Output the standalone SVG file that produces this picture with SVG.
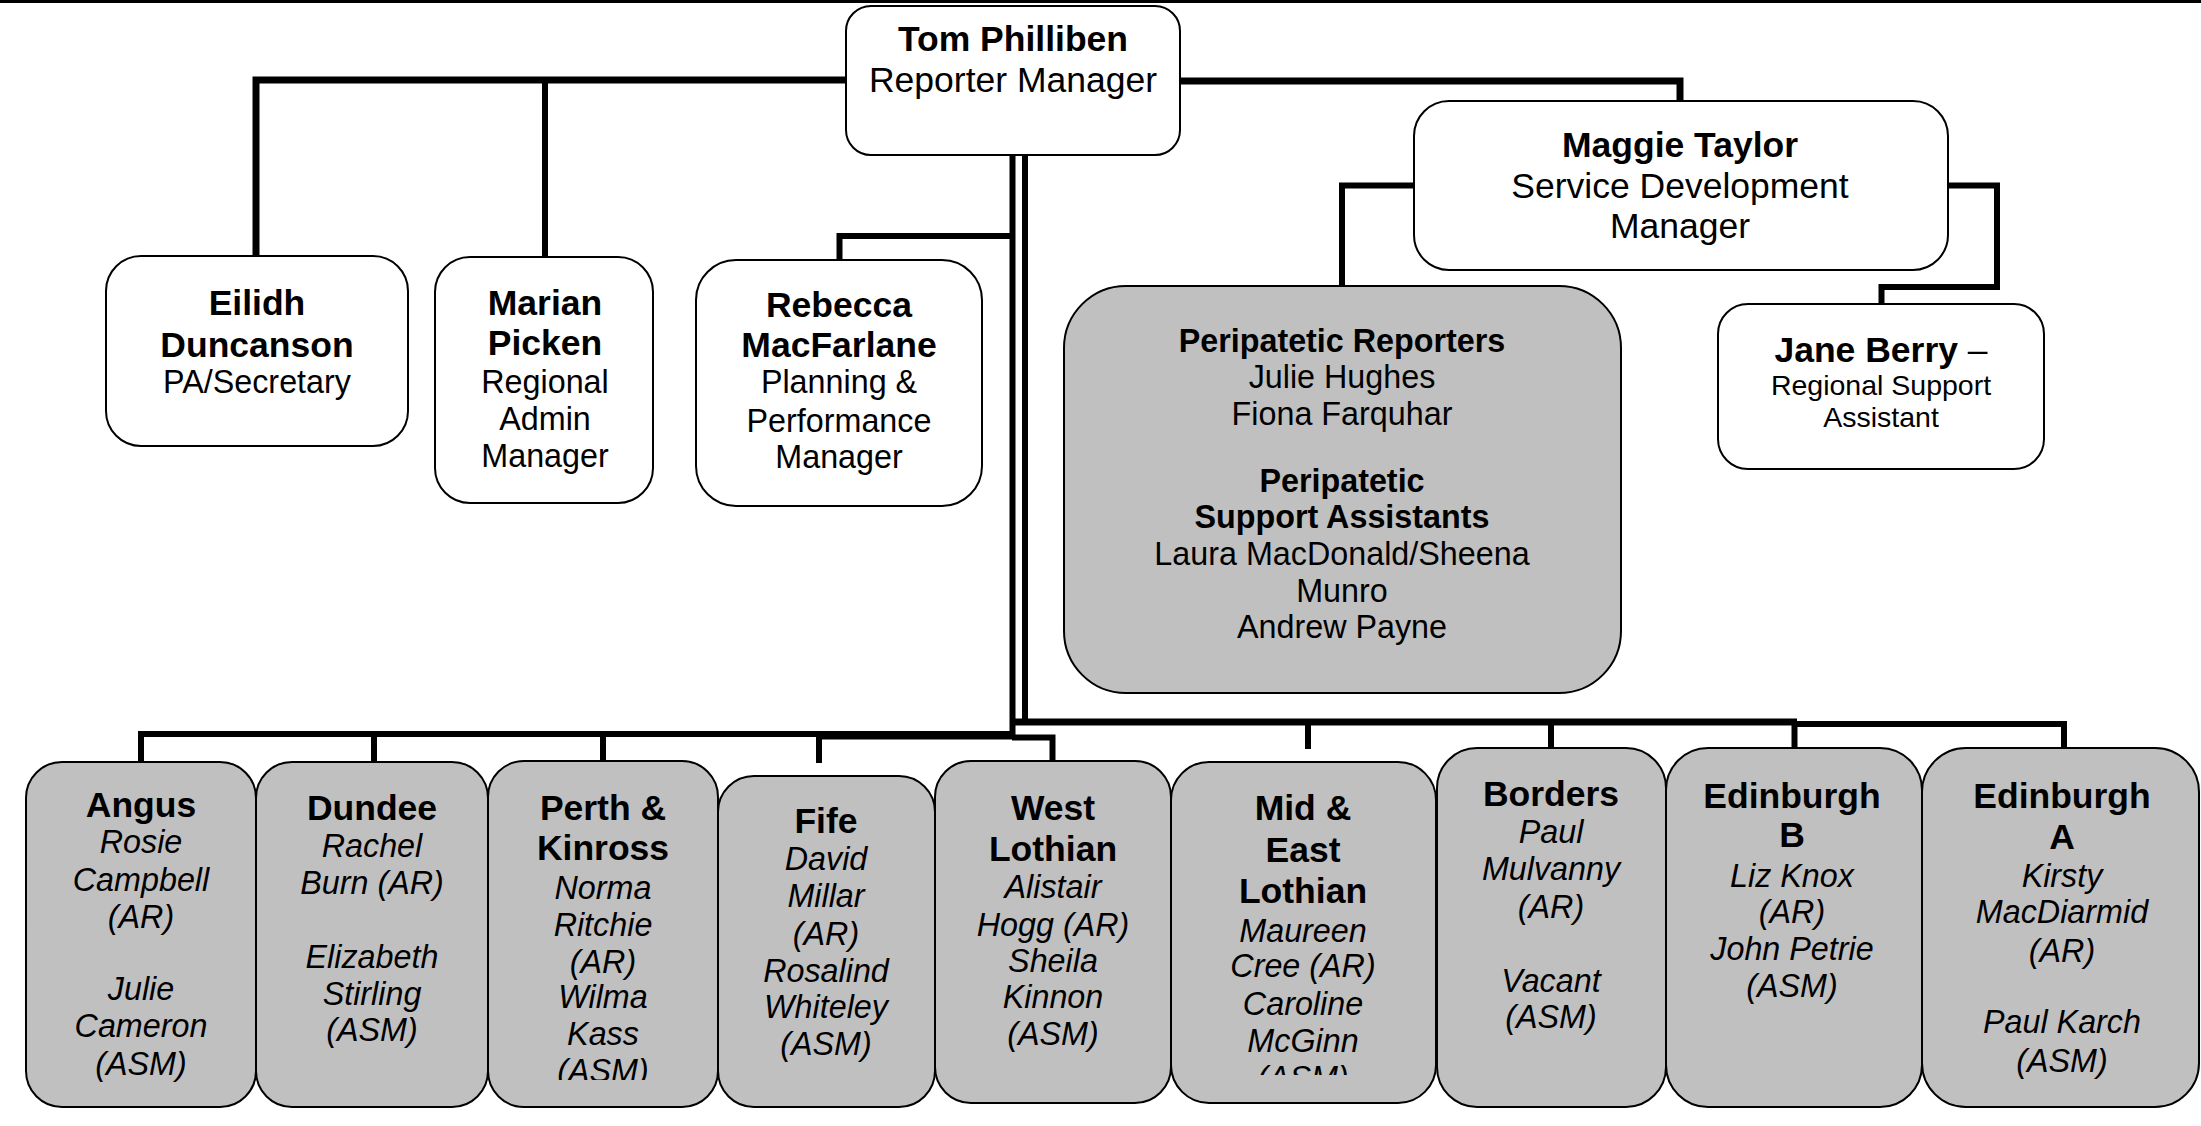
<svg xmlns="http://www.w3.org/2000/svg" width="2201" height="1126" viewBox="0 0 2201 1126">
<defs>
<style>
.box{fill:#fff;stroke:#000;stroke-width:2}
.gbox{fill:#c0c0c0;stroke:#000;stroke-width:2}
.conn{fill:none;stroke:#000;stroke-width:6;stroke-linejoin:miter;stroke-linecap:butt}
.bus{stroke-width:7}
text{font-family:"Liberation Sans",Arial,sans-serif;text-anchor:middle;fill:#000}
.b35{font-weight:bold;font-size:35.5px}
.r35{font-size:35.5px}
.r32{font-size:32.3px}
.b32{font-weight:bold;font-size:32.3px}
.i32{font-style:italic;font-size:32.3px}
.r28{font-size:28.5px}
</style>
<clipPath id="clipPerth"><rect x="488" y="740" width="230" height="340"/></clipPath>
<clipPath id="clipMid"><rect x="1171" y="740" width="265" height="335"/></clipPath>
</defs>
<rect x="0" y="0" width="2201" height="3" fill="#000"/>
<g id="connectors">
<path class="conn bus" d="M846,80 H256 V256"/>
<path class="conn" d="M545,80 V257"/>
<path class="conn bus" d="M1180,81 H1680 V101"/>
<path class="conn" d="M1012.5,155 V739"/>
<path class="conn" d="M1025,155 V722"/>
<path class="conn" d="M1012,236 H839.5 V260"/>
<path class="conn" d="M1414,185.5 H1342 V286"/>
<path class="conn" d="M1948,185.5 H1997 V287 H1881.5 V304"/>
<path class="conn bus" d="M1012,722 H1797"/>
<path class="conn" d="M1794,724 H2064 V748"/>
<path class="conn" d="M1308,722 V749"/>
<path class="conn" d="M1551,722 V748"/>
<path class="conn" d="M1794.5,722 V748"/>
<path class="conn" d="M141,762 V734 H1012"/>
<path class="conn bus" d="M819,736 H1012"/>
<path class="conn" d="M374,734 V762"/>
<path class="conn" d="M603,734 V761"/>
<path class="conn" d="M819,736 V763"/>
<path class="conn" d="M1012,737.5 H1052.5 V761"/>
</g>
<g id="tom">
<rect class="box" x="846" y="6" width="334" height="149" rx="25" ry="25"/>
<text class="b35" x="1013" y="51">Tom Philliben</text>
<text class="r35" x="1013" y="92">Reporter Manager</text>
</g>
<g id="eilidh">
<rect class="box" x="106" y="256" width="302" height="190" rx="35" ry="35"/>
<text class="b35" x="257" y="315">Eilidh</text>
<text class="b35" x="257" y="357">Duncanson</text>
<text class="r32" x="257" y="393">PA/Secretary</text>
</g>
<g id="marian">
<rect class="box" x="435" y="257" width="218" height="246" rx="35" ry="35"/>
<text class="b35" x="545" y="315">Marian</text>
<text class="b35" x="545" y="355">Picken</text>
<text class="r32" x="545" y="393">Regional</text>
<text class="r32" x="545" y="430">Admin</text>
<text class="r32" x="545" y="467">Manager</text>
</g>
<g id="rebecca">
<rect class="box" x="696" y="260" width="286" height="246" rx="40" ry="40"/>
<text class="b35" x="839" y="317">Rebecca</text>
<text class="b35" x="839" y="357">MacFarlane</text>
<text class="r32" x="839" y="393">Planning &amp;</text>
<text class="r32" x="839" y="432">Performance</text>
<text class="r32" x="839" y="468">Manager</text>
</g>
<g id="maggie">
<rect class="box" x="1414" y="101" width="534" height="169" rx="35" ry="35"/>
<text class="b35" x="1680" y="157">Maggie Taylor</text>
<text class="r35" x="1680" y="198">Service Development</text>
<text class="r35" x="1680" y="238">Manager</text>
</g>
<g id="peripatetic">
<rect class="gbox" x="1064" y="286" width="557" height="407" rx="62" ry="62"/>
<text class="b32" x="1342" y="352">Peripatetic Reporters</text>
<text class="r32" x="1342" y="388">Julie Hughes</text>
<text class="r32" x="1342" y="425">Fiona Farquhar</text>
<text class="b32" x="1342" y="492">Peripatetic</text>
<text class="b32" x="1342" y="528">Support Assistants</text>
<text class="r32" x="1342" y="565">Laura MacDonald/Sheena</text>
<text class="r32" x="1342" y="602">Munro</text>
<text class="r32" x="1342" y="638">Andrew Payne</text>
</g>
<g id="jane">
<rect class="box" x="1718" y="304" width="326" height="165" rx="30" ry="30"/>
<text class="r35" x="1881" y="362"><tspan font-weight="bold">Jane Berry</tspan> –</text>
<text class="r28" x="1881" y="395">Regional Support</text>
<text class="r28" x="1881" y="427">Assistant</text>
</g>
<g id="angus">
<rect class="gbox" x="26" y="762" width="230" height="345" rx="36" ry="36"/>
<text class="b35" x="141" y="817">Angus</text>
<text class="i32" x="141" y="853">Rosie</text>
<text class="i32" x="141" y="891">Campbell</text>
<text class="i32" x="141" y="928">(AR)</text>
<text class="i32" x="141" y="1000">Julie</text>
<text class="i32" x="141" y="1037">Cameron</text>
<text class="i32" x="141" y="1075">(ASM)</text>
</g>
<g id="dundee">
<rect class="gbox" x="256" y="762" width="232" height="345" rx="36" ry="36"/>
<text class="b35" x="372" y="820">Dundee</text>
<text class="i32" x="372" y="857">Rachel</text>
<text class="i32" x="372" y="894">Burn (AR)</text>
<text class="i32" x="372" y="968">Elizabeth</text>
<text class="i32" x="372" y="1005">Stirling</text>
<text class="i32" x="372" y="1041">(ASM)</text>
</g>
<g id="perth">
<rect class="gbox" x="488" y="761" width="230" height="346" rx="36" ry="36"/>
<g clip-path="url(#clipPerth)">
<text class="b35" x="603" y="820">Perth &amp;</text>
<text class="b35" x="603" y="860">Kinross</text>
<text class="i32" x="603" y="899">Norma</text>
<text class="i32" x="603" y="936">Ritchie</text>
<text class="i32" x="603" y="973">(AR)</text>
<text class="i32" x="603" y="1008">Wilma</text>
<text class="i32" x="603" y="1045">Kass</text>
<text class="i32" x="603" y="1082">(ASM)</text>
</g>
</g>
<g id="fife">
<rect class="gbox" x="718" y="776" width="217" height="331" rx="36" ry="36"/>
<text class="b35" x="826" y="833">Fife</text>
<text class="i32" x="826" y="870">David</text>
<text class="i32" x="826" y="907">Millar</text>
<text class="i32" x="826" y="945">(AR)</text>
<text class="i32" x="826" y="982">Rosalind</text>
<text class="i32" x="826" y="1018">Whiteley</text>
<text class="i32" x="826" y="1055">(ASM)</text>
</g>
<g id="westlothian">
<rect class="gbox" x="935" y="761" width="236" height="342" rx="36" ry="36"/>
<text class="b35" x="1053" y="820">West</text>
<text class="b35" x="1053" y="861">Lothian</text>
<text class="i32" x="1053" y="898">Alistair</text>
<text class="i32" x="1053" y="936">Hogg (AR)</text>
<text class="i32" x="1053" y="972">Sheila</text>
<text class="i32" x="1053" y="1008">Kinnon</text>
<text class="i32" x="1053" y="1045">(ASM)</text>
</g>
<g id="midEastLothian">
<rect class="gbox" x="1171" y="762" width="265" height="341" rx="38" ry="38"/>
<g clip-path="url(#clipMid)">
<text class="b35" x="1303" y="820">Mid &amp;</text>
<text class="b35" x="1303" y="862">East</text>
<text class="b35" x="1303" y="903">Lothian</text>
<text class="i32" x="1303" y="942">Maureen</text>
<text class="i32" x="1303" y="977">Cree (AR)</text>
<text class="i32" x="1303" y="1015">Caroline</text>
<text class="i32" x="1303" y="1052">McGinn</text>
<text class="i32" x="1303" y="1089">(ASM)</text>
</g>
</g>
<g id="borders">
<rect class="gbox" x="1437" y="748" width="229" height="359" rx="40" ry="40"/>
<text class="b35" x="1551" y="806">Borders</text>
<text class="i32" x="1551" y="843">Paul</text>
<text class="i32" x="1551" y="880">Mulvanny</text>
<text class="i32" x="1551" y="918">(AR)</text>
<text class="i32" x="1551" y="992">Vacant</text>
<text class="i32" x="1551" y="1028">(ASM)</text>
</g>
<g id="edinburghB">
<rect class="gbox" x="1666" y="748" width="256" height="359" rx="42" ry="42"/>
<text class="b35" x="1792" y="808">Edinburgh</text>
<text class="b35" x="1792" y="847">B</text>
<text class="i32" x="1792" y="887">Liz Knox</text>
<text class="i32" x="1792" y="923">(AR)</text>
<text class="i32" x="1792" y="960">John Petrie</text>
<text class="i32" x="1792" y="997">(ASM)</text>
</g>
<g id="edinburghA">
<rect class="gbox" x="1922" y="748" width="277" height="359" rx="44" ry="44"/>
<text class="b35" x="2062" y="808">Edinburgh</text>
<text class="b35" x="2062" y="849">A</text>
<text class="i32" x="2062" y="887">Kirsty</text>
<text class="i32" x="2062" y="923">MacDiarmid</text>
<text class="i32" x="2062" y="962">(AR)</text>
<text class="i32" x="2062" y="1033">Paul Karch</text>
<text class="i32" x="2062" y="1072">(ASM)</text>
</g>
</svg>
